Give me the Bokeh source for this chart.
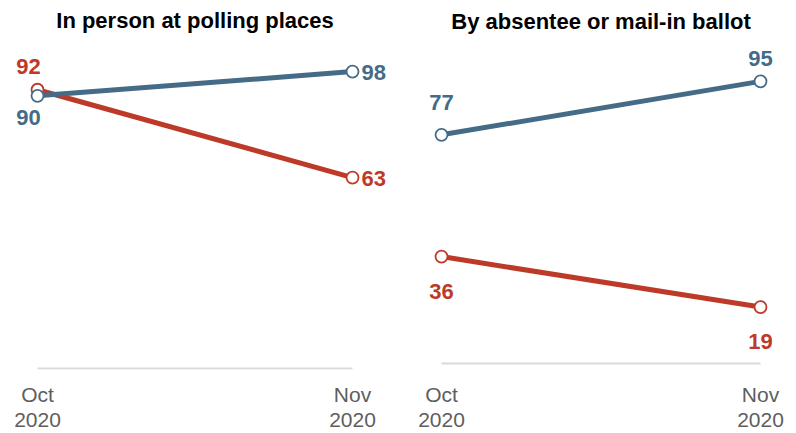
from bokeh.plotting import figure
from bokeh.layouts import row
from bokeh.models import Range1d, FixedTicker, Label
from bokeh.core.properties import value
from bokeh.embed import file_html
from bokeh.resources import INLINE

# ---- data ----
categories = ["Oct\n2020", "Nov\n2020"]
panel_titles = ["In person at polling places", "By absentee or mail-in ballot"]
in_person_red = [92, 63]
in_person_blue = [90, 98]
mail_blue = [77, 95]
mail_red = [36, 19]

RED = "#BE3A28"
BLUE = "#456B87"
GRAY_TXT = "#5E5E5E"
BASE = "#D9D9D9"
FONT = "Liberation Sans"
TITLE_Y = 115

xs = list(range(len(categories)))


def make_panel(title, series, x_range, y_range, labels, right_pad):
    p = figure(frame_width=390, frame_height=369, output_backend="svg", toolbar_location=None,
               x_range=x_range, y_range=y_range, min_border_left=0, min_border_right=right_pad,
               min_border_top=0, min_border_bottom=0, background_fill_color="white",
               border_fill_color="white")
    p.outline_line_color = None
    p.grid.visible = False
    p.yaxis.visible = False
    ax = p.xaxis[0]
    ax.ticker = FixedTicker(ticks=xs)
    ax.major_label_overrides = {i: c for i, c in zip(xs, categories)}
    ax.axis_line_color = None
    ax.major_tick_line_color = None
    ax.minor_tick_line_color = None
    ax.major_label_text_font = FONT
    ax.major_label_text_font_size = "21px"
    ax.major_label_text_color = GRAY_TXT
    ax.major_label_standoff = 7
    ax.major_label_text_line_height = 1.1

    # baseline
    p.segment(x0=[xs[0]], y0=[0], x1=[xs[-1]], y1=[0], line_color=BASE, line_width=2)

    for vals, color in series:
        p.line(xs, vals, line_color=color, line_width=5)
    for vals, color in series:
        p.scatter(xs, vals, size=12, fill_color="white", line_color=color, line_width=1.8)

    for vals, color, idx, dx, dy, align in labels:
        p.text(x=[xs[idx]], y=[vals[idx]], text=[str(vals[idx])], x_offset=dx, y_offset=dy,
               text_align=align, text_baseline="middle", text_color=color,
               text_font=value(FONT), text_font_style="bold", text_font_size="22px")

    p.add_layout(Label(x=0.5, y=TITLE_Y, text=title, text_align="center", text_baseline="middle",
                       text_font=FONT, text_font_style="bold", text_font_size="22px",
                       text_color="#000000"))
    return p


p1 = make_panel(
    panel_titles[0],
    [(in_person_red, RED), (in_person_blue, BLUE)],
    Range1d(-0.1175, 1.1206), Range1d(-0.33, 121.45),
    [(in_person_red, RED, 0, -9, -23, "center"),
     (in_person_blue, BLUE, 0, -9, 22, "center"),
     (in_person_blue, BLUE, 1, 9, 1, "left"),
     (in_person_red, RED, 1, 9, 1, "left")],
    0,
)
p2 = make_panel(
    panel_titles[1],
    [(mail_blue, BLUE), (mail_red, RED)],
    Range1d(-0.1599, 1.0627), Range1d(-2.02, 122.22),
    [(mail_blue, BLUE, 0, 0, -32, "center"),
     (mail_blue, BLUE, 1, 0, -23, "center"),
     (mail_red, RED, 0, 0, 35, "center"),
     (mail_red, RED, 1, 0, 34, "center")],
    8,
)

layout = row(p1, p2)
open("out.html", "w").write(file_html(layout, INLINE))
